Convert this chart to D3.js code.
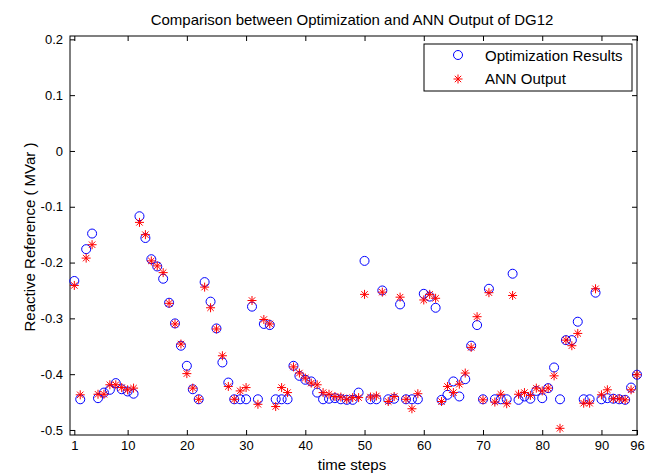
<!DOCTYPE html>
<html>
<head>
<meta charset="utf-8">
<script src="https://cdn.jsdelivr.net/npm/d3@7"></script>
<style>
  body { margin: 0; background: #fff; }
  svg { display: block; font-family: "Liberation Sans", Arial, sans-serif; }
  .axis path, .axis line { stroke: #000; }
  .axis text { font-size: 13px; fill: #000; }
</style>
</head>
<body>
<div id="chart"></div>
<script>
// time steps 1..96
const steps = d3.range(1, 97);

const optResults = [-0.233, -0.445, -0.176, -0.148, -0.443, -0.433, -0.428, -0.416, -0.427, -0.431,
  -0.435, -0.117, -0.156, -0.194, -0.207, -0.229, -0.272, -0.309, -0.349, -0.385,
  -0.427, -0.445, -0.235, -0.270, -0.318, -0.379, -0.415, -0.445, -0.445, -0.445,
  -0.279, -0.445, -0.310, -0.312, -0.445, -0.445, -0.445, -0.385, -0.403, -0.410,
  -0.413, -0.433, -0.445, -0.444, -0.443, -0.445, -0.446, -0.446, -0.433, -0.197,
  -0.445, -0.445, -0.250, -0.445, -0.444, -0.275, -0.445, -0.445, -0.445, -0.256,
  -0.261, -0.281, -0.446, -0.437, -0.413, -0.440, -0.409, -0.349, -0.312, -0.445,
  -0.247, -0.445, -0.445, -0.445, -0.220, -0.446, -0.440, -0.444, -0.430, -0.443,
  -0.425, -0.388, -0.445, -0.339, -0.339, -0.306, -0.445, -0.445, -0.254, -0.445,
  -0.443, -0.444, -0.445, -0.446, -0.424, -0.401];

const annOutput = [-0.241, -0.437, -0.192, -0.168, -0.436, -0.436, -0.419, -0.419, -0.424, -0.428,
  -0.425, -0.128, -0.150, -0.197, -0.206, -0.218, -0.273, -0.310, -0.346, -0.399,
  -0.425, -0.445, -0.244, -0.281, -0.319, -0.367, -0.422, -0.445, -0.430, -0.424,
  -0.268, -0.454, -0.302, -0.310, -0.458, -0.424, -0.433, -0.387, -0.398, -0.407,
  -0.416, -0.419, -0.433, -0.436, -0.440, -0.441, -0.445, -0.442, -0.442, -0.257,
  -0.441, -0.439, -0.253, -0.449, -0.440, -0.262, -0.445, -0.462, -0.435, -0.267,
  -0.257, -0.264, -0.449, -0.422, -0.433, -0.418, -0.398, -0.352, -0.297, -0.446,
  -0.254, -0.450, -0.436, -0.453, -0.259, -0.436, -0.433, -0.438, -0.425, -0.430,
  -0.425, -0.403, -0.497, -0.339, -0.349, -0.327, -0.452, -0.452, -0.247, -0.437,
  -0.428, -0.444, -0.444, -0.446, -0.428, -0.401];

const xTicks = [1, 10, 20, 30, 40, 50, 60, 70, 80, 90, 96];
const yTicks = [0.2, 0.1, 0, -0.1, -0.2, -0.3, -0.4, -0.5];
const legendLabels = ['Optimization Results', 'ANN Output'];

const width = 658, height = 476;
const margin = { top: 36, right: 21, bottom: 41, left: 70 };

const svg = d3.select('#chart').append('svg')
  .attr('width', width)
  .attr('height', height);

const x = d3.scaleLinear().domain([0.27, 96]).range([margin.left, width - margin.right]);
const y = d3.scaleLinear().domain([-0.509, 0.206]).range([height - margin.bottom, margin.top]);

const tickFmt = d => d === 0 ? '0' : d3.format('.1f')(d).replace('−', '-');

// axes with inward ticks (box on)
svg.append('g')
  .attr('class', 'axis')
  .attr('transform', `translate(0,${height - margin.bottom})`)
  .call(d3.axisBottom(x).tickValues(xTicks).tickSizeInner(-5).tickSizeOuter(0).tickPadding(6))
  .call(g => g.select('.domain').remove());

svg.append('g')
  .attr('class', 'axis')
  .attr('transform', `translate(0,${margin.top})`)
  .call(d3.axisTop(x).tickValues(xTicks).tickSizeInner(-5).tickSizeOuter(0).tickFormat(''))
  .call(g => g.select('.domain').remove());

svg.append('g')
  .attr('class', 'axis')
  .attr('transform', `translate(${margin.left},0)`)
  .call(d3.axisLeft(y).tickValues(yTicks).tickSizeInner(-5).tickSizeOuter(0).tickPadding(7).tickFormat(tickFmt))
  .call(g => g.select('.domain').remove());

svg.append('g')
  .attr('class', 'axis')
  .attr('transform', `translate(${width - margin.right},0)`)
  .call(d3.axisRight(y).tickValues(yTicks).tickSizeInner(-5).tickSizeOuter(0).tickFormat(''))
  .call(g => g.select('.domain').remove());

// box
svg.append('rect')
  .attr('x', margin.left)
  .attr('y', margin.top)
  .attr('width', width - margin.left - margin.right)
  .attr('height', height - margin.top - margin.bottom)
  .attr('fill', 'none')
  .attr('stroke', '#000');

const starPath = 'M-4.5,0H4.5M0,-4.5V4.5M-3.2,-3.2L3.2,3.2M-3.2,3.2L3.2,-3.2';

// optimization results (blue circles)
svg.append('g').selectAll('circle')
  .data(steps)
  .join('circle')
  .attr('cx', d => x(d))
  .attr('cy', (d, i) => y(optResults[i]))
  .attr('r', 4.5)
  .attr('fill', 'none')
  .attr('stroke', '#0000ff')
  .attr('stroke-width', 1);

// ANN output (red stars)
svg.append('g').selectAll('path')
  .data(steps)
  .join('path')
  .attr('transform', (d, i) => `translate(${x(d)},${y(annOutput[i])})`)
  .attr('d', starPath)
  .attr('fill', 'none')
  .attr('stroke', '#ff0000')
  .attr('stroke-width', 1);

// title and labels
svg.append('text')
  .attr('x', 352)
  .attr('y', 25)
  .attr('text-anchor', 'middle')
  .style('font-size', '15px')
  .text('Comparison between Optimization and ANN Output of DG12');

svg.append('text')
  .attr('x', 352)
  .attr('y', 470)
  .attr('text-anchor', 'middle')
  .style('font-size', '15px')
  .text('time steps');

svg.append('text')
  .attr('transform', 'translate(35,237) rotate(-90)')
  .attr('text-anchor', 'middle')
  .style('font-size', '15px')
  .text('Reactive Reference ( MVar )');

// legend
const legend = svg.append('g').attr('transform', 'translate(424,44)');
legend.append('rect')
  .attr('width', 208)
  .attr('height', 47)
  .attr('fill', '#fff')
  .attr('stroke', '#000');

legend.append('circle')
  .attr('cx', 34).attr('cy', 11).attr('r', 4.5)
  .attr('fill', 'none').attr('stroke', '#0000ff');
legend.append('path')
  .attr('transform', 'translate(34,35)')
  .attr('d', starPath)
  .attr('fill', 'none').attr('stroke', '#ff0000');

legend.selectAll('text.leg')
  .data(legendLabels)
  .join('text')
  .attr('class', 'leg')
  .attr('x', 61)
  .attr('y', (d, i) => 17 + i * 22.5)
  .style('font-size', '15px')
  .text(d => d);
</script>
</body>
</html>
